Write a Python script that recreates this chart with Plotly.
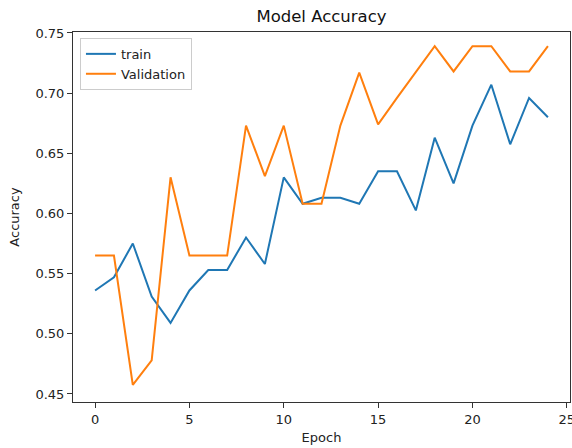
import plotly.graph_objects as go

epochs = list(range(25))
train = [0.536, 0.547, 0.575, 0.531, 0.509, 0.536, 0.553, 0.553, 0.580, 0.558,
         0.630, 0.608, 0.613, 0.613, 0.608, 0.635, 0.635, 0.6025, 0.663, 0.625,
         0.673, 0.707, 0.6575, 0.696, 0.680]
validation = [0.565, 0.565, 0.4575, 0.478, 0.630, 0.565, 0.565, 0.565, 0.673, 0.631,
              0.673, 0.608, 0.608, 0.673, 0.717, 0.674, 0.696, 0.717, 0.739, 0.718,
              0.739, 0.739, 0.718, 0.718, 0.739]
x_ticks = [0, 5, 10, 15, 20, 25]
y_ticks = [0.45, 0.50, 0.55, 0.60, 0.65, 0.70, 0.75]

fig = go.Figure()
fig.add_trace(go.Scatter(x=epochs, y=train, mode="lines", name="train",
                         line=dict(color="#1f77b4", width=2)))
fig.add_trace(go.Scatter(x=epochs, y=validation, mode="lines", name="Validation",
                         line=dict(color="#ff7f0e", width=2)))

font = dict(family="DejaVu Sans", size=13, color="#222")
axis_common = dict(showgrid=False, zeroline=False, showline=True, linecolor="#333",
                   linewidth=1, mirror=True, ticks="outside", ticklen=5,
                   tickcolor="#333", tickfont=font, automargin=False,
                   ticklabeloverflow="allow")

fig.update_layout(
    width=572, height=448,
    margin=dict(l=73, r=2, t=32, b=46),
    paper_bgcolor="white", plot_bgcolor="white",
    font=font,
    title=dict(text="Model Accuracy", x=0.562, xanchor="center", y=0.964, yanchor="middle",
               font=dict(family="DejaVu Sans", size=16.5, color="#111")),
    xaxis=dict(range=[-1.17, 25.17], tickvals=x_ticks, ticktext=[str(t) for t in x_ticks],
               title=dict(text="Epoch", font=font, standoff=7), **axis_common),
    yaxis=dict(range=[0.4433, 0.7508], tickvals=y_ticks,
               ticktext=[f"{t:.2f}" for t in y_ticks],
               title=dict(text="Accuracy", font=font, standoff=12), **axis_common),
    legend=dict(x=0.014, y=0.984, xanchor="left", yanchor="top",
                bgcolor="rgba(255,255,255,0.8)", bordercolor="#ccc", borderwidth=1,
                font=font, tracegroupgap=0),
    showlegend=True,
)

fig.write_html(
    "out.html",
    config={"displayModeBar": False},
    post_script="document.body.style.margin='0';document.body.style.overflow='hidden';",
)
